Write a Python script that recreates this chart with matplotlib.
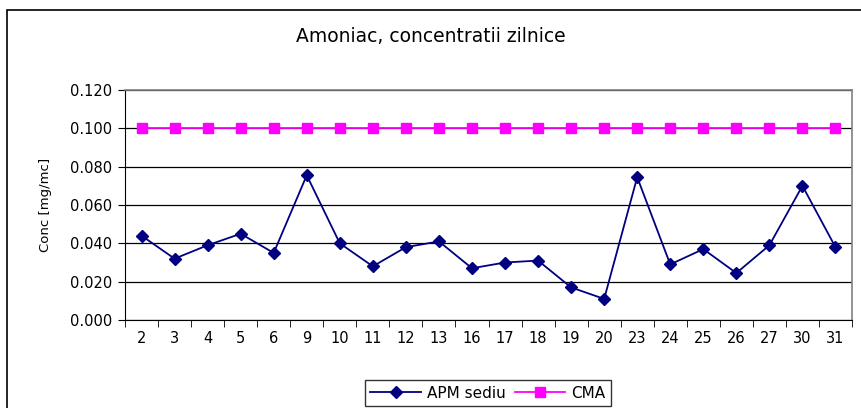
import numpy as np
import matplotlib
matplotlib.use("Agg")
import matplotlib.pyplot as plt
from matplotlib.patches import Rectangle

# days of month with measurements
days = ['2', '3', '4', '5', '6', '9', '10', '11', '12', '13', '16', '17',
        '18', '19', '20', '23', '24', '25', '26', '27', '30', '31']
apm_sediu = [0.044, 0.032, 0.039, 0.045, 0.035, 0.0755, 0.040, 0.028, 0.038, 0.041, 0.027, 0.030,
             0.031, 0.017, 0.011, 0.0745, 0.029, 0.037, 0.0245, 0.039, 0.070, 0.038]
cma = [0.100] * len(days)
yticks = [0.000, 0.020, 0.040, 0.060, 0.080, 0.100, 0.120]

# the reference text is a bit wide, DejaVu Sans comes closer than Arial-like fonts
plt.rcParams['font.family'] = ['DejaVu Sans']

fig = plt.figure(figsize=(8.61, 4.08), dpi=100)
ax = fig.add_axes([125/861, 1-320/408, (852-125)/861, (320-90)/408])

# outer chart border (runs off the right and bottom of the image)
fig.patches.append(Rectangle((7/861, -0.05), 1.0, 1-10/408+0.05, transform=fig.transFigure,
                             fill=False, edgecolor='black', linewidth=1.2, clip_on=False))

x = np.arange(len(days))
ax.plot(x, apm_sediu, color='#000080', marker='D', markersize=6.5, linewidth=1.3, label='APM sediu')
ax.plot(x, cma, color='#ff00ff', marker='s', markersize=6.5, linewidth=1.3, label='CMA')

ax.set_xlim(-0.5, len(days) - 0.5)
ax.set_ylim(0, 0.12)
ax.set_yticks(yticks)
ax.set_yticklabels(['%.3f' % v for v in yticks], fontsize=10.5)
ax.set_xticks(x)
ax.set_xticklabels(days, fontsize=10.5)
ax.set_xticks(np.arange(-0.5, len(days)), minor=True)
ax.tick_params(axis='x', which='major', length=0, pad=8)
ax.tick_params(axis='x', which='minor', length=5, direction='out', color='black')
ax.tick_params(axis='y', length=5, direction='out', pad=4)

ax.grid(axis='y', color='black', linewidth=0.9)
ax.set_axisbelow(True)
for s in ['top', 'right']:
    ax.spines[s].set_color('#808080')
    ax.spines[s].set_linewidth(1.2)
ax.spines['left'].set_color('black')
ax.spines['bottom'].set_color('black')

ax.set_ylabel('Conc [mg/mc]', fontsize=9.5, labelpad=13)
fig.text(0.5, 1-37/408, 'Amoniac, concentratii zilnice', ha='center', va='center', fontsize=13.5)

leg = fig.legend(loc='center', bbox_to_anchor=(488/861, 1-393/408), ncol=2, fontsize=11,
                 frameon=True, fancybox=False, edgecolor='black', handlelength=3.3,
                 columnspacing=0.6, handletextpad=0.4, borderpad=0.35)
leg.get_frame().set_linewidth(1.0)

fig.savefig('out.png', dpi=100)
